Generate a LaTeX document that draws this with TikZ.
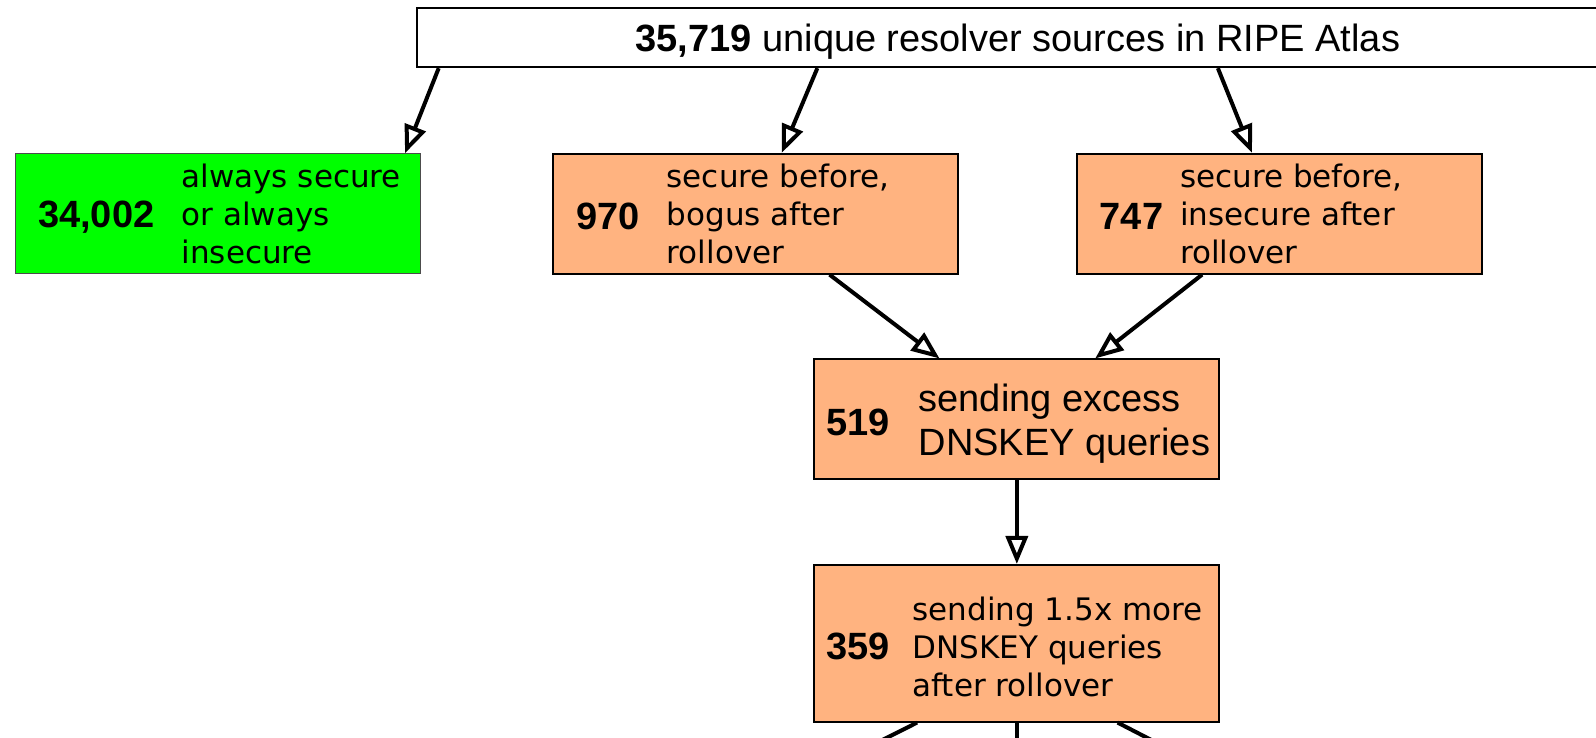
\documentclass[tikz,border=0pt]{standalone}
\usepackage{fontspec}
\usetikzlibrary{arrows.meta,calc}
\newfontfamily\numfont{Liberation Sans}
\newfontfamily\lblfont{DejaVu Sans}
\definecolor{peach}{RGB}{255,179,128}
\definecolor{allgreen}{RGB}{0,255,0}
\tikzset{
	box/.style={draw=black, line width=0.9pt, fill=peach, rectangle, inner sep=0pt, minimum width=202.5pt, minimum height=60pt},
	num/.style={anchor=west, inner sep=0pt, yshift=-1.5pt, font=\numfont\bfseries\fontsize{19}{22}\selectfont},
	lbl/.style={anchor=west, inner sep=0pt, align=left, font=\lblfont\fontsize{15.5}{19}\selectfont},
	flow/.style={line width=2pt, -{Triangle[open, length=14pt, width=11pt]}},
}
\begin{document}
\begin{tikzpicture}[x=0.50893pt, y=-0.50893pt]
	\useasboundingbox (0,0) rectangle (1568,725);
	\clip (0,0) rectangle (1568,725);
	% Boxes
	\node [box, fill=white, line width=1pt, minimum width=600.5pt, minimum height=29.5pt, text height=18pt, text depth=4pt, font=\numfont\fontsize{19}{22}\selectfont] (all) at (1000,37) {{\bfseries 35,719} unique resolver sources in RIPE Atlas};
	\node [box, fill=allgreen, draw=black!70, line width=0.5pt] (same) at (214.5,210) {};
	\node [box] (bogus) at (742.5,210) {};
	\node [box] (insec) at (1257,210) {};
	\node [box] (excess) at (999,412) {};
	\node [box, minimum height=78.4pt] (more) at (999,632) {};
	% Counts and labels
	\node [num] (same-n) at ($(same.west)+(22,0)$) {34,002};
	\node [lbl] (same-t) at ($(same.west)+(163,0)$) {always secure\\or always\\insecure};
	\node [num] (bogus-n) at ($(bogus.west)+(23,0)$) {970};
	\node [lbl] (bogus-t) at ($(bogus.west)+(112,0)$) {secure before,\\bogus after\\rollover};
	\node [num] (insec-n) at ($(insec.west)+(23,0)$) {747};
	\node [lbl] (insec-t) at ($(insec.west)+(102,0)$) {secure before,\\insecure after\\rollover};
	\node [num] (excess-n) at ($(excess.west)+(12,0)$) {519};
	\node [lbl, yshift=-2pt, font=\numfont\fontsize{19}{22}\selectfont] (excess-t) at ($(excess.west)+(103,0)$) {sending excess\\DNSKEY queries};
	\node [num] (more-n) at ($(more.west)+(12,0)$) {359};
	\node [lbl, yshift=-2pt] (more-t) at ($(more.west)+(97,0)$) {sending 1.5x more\\DNSKEY queries\\after rollover};
	% Arrows
	\draw [flow] ($(all.south)+(-569,0)$) -- ($(same.north east)+(-16,0)$);
	\draw [flow] ($(all.south)+(-197,0)$) -- ($(bogus.north)+(25.5,0)$);
	\draw [flow] ($(all.south)+(196.5,0)$) -- ($(insec.north)+(-27,0)$);
	\draw [flow] ($(bogus.south)+(72.5,0)$) -- ($(excess.north)+(-76,0)$);
	\draw [flow] ($(insec.south)+(-76,0)$) -- ($(excess.north)+(77,0)$);
	\draw [flow] (excess) -- (more);
	% Cut off below
	\coordinate (out-l) at (831,745);
	\coordinate (out-m) at (999,745);
	\coordinate (out-r) at (1166,745);
	\draw [line width=2pt] ($(more.south)+(-98,0)$) -- (out-l);
	\draw [line width=2pt] (more.south) -- (out-m);
	\draw [line width=2pt] ($(more.south)+(99,0)$) -- (out-r);
\end{tikzpicture}
\end{document}
